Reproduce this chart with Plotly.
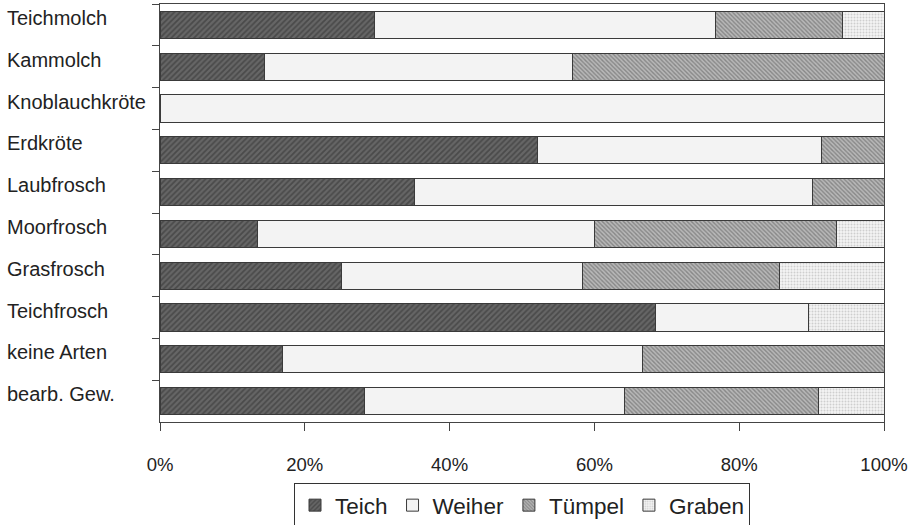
import plotly.graph_objects as go

# Gewässertypen je Art (Anteile in %)
arten = ["Teichmolch", "Kammolch", "Knoblauchkröte", "Erdkröte", "Laubfrosch",
         "Moorfrosch", "Grasfrosch", "Teichfrosch", "keine Arten", "bearb. Gew."]
teich  = [29.6, 14.4, 0.0, 52.2, 35.1, 13.4, 25.1, 68.4, 16.9, 28.3]
weiher = [47.1, 42.6, 100.0, 39.1, 55.0, 46.6, 33.2, 21.2, 49.8, 35.8]
tuempel = [17.5, 43.0, 0.0, 8.7, 9.9, 33.5, 27.3, 0.0, 33.3, 26.9]
graben = [5.8, 0.0, 0.0, 0.0, 0.0, 6.5, 14.4, 10.4, 0.0, 9.0]
x_ticks = [0, 20, 40, 60, 80, 100]
x_ticktext = [f"{v}%" for v in x_ticks]

FONT = "Liberation Sans, Arial, sans-serif"
TXT = "#222222"
EDGE = "#3a3a3a"

series = [
    ("Teich", teich, dict(shape="/", bgcolor="#666666", fgcolor="#2e2e2e", size=4, solidity=0.45)),
    ("Weiher", weiher, dict(shape="", bgcolor="#f3f3f3", fgcolor="#f3f3f3")),
    ("Tümpel", tuempel, dict(shape="\\", bgcolor="#b8b8b8", fgcolor="#555555", size=3, solidity=0.45)),
    ("Graben", graben, dict(shape=".", bgcolor="#f4f4f4", fgcolor="#a8a8a8", size=3, solidity=0.35)),
]

fig = go.Figure()
for name, vals, pat in series:
    fig.add_trace(go.Bar(
        name=name, y=arten, x=vals, orientation="h",
        marker=dict(color=pat["bgcolor"], pattern=pat,
                    line=dict(color=EDGE, width=1)),
        hoverinfo="x+y+name",
    ))

# Artnamen linksbündig am Rand
for a in arten:
    fig.add_annotation(x=-0.214, xref="paper", y=a, yref="y", text=a,
                       xanchor="left", yanchor="middle", showarrow=False,
                       yshift=7, font=dict(family=FONT, size=20, color=TXT))

fig.update_layout(
    barmode="stack", bargap=0.35,
    width=910, height=525,
    margin=dict(l=160, r=26, t=4, b=103, autoexpand=False),
    paper_bgcolor="white", plot_bgcolor="white",
    font=dict(family=FONT, color=TXT),
    showlegend=True,
    legend=dict(orientation="h", x=0.5, xanchor="center", y=-0.146, yanchor="top",
                font=dict(family=FONT, size=22.5, color=TXT),
                bordercolor="#333333", borderwidth=1, bgcolor="white",
                itemwidth=30, traceorder="normal"),
)
fig.update_xaxes(
    range=[0, 100], tickvals=x_ticks, ticktext=x_ticktext,
    showgrid=False, zeroline=False,
    showline=True, linecolor="#444444", linewidth=1, mirror=True,
    ticks="outside", ticklen=8, tickcolor="#444444",
    ticklabelstandoff=18,
    tickfont=dict(family=FONT, size=18.5, color=TXT),
)
fig.update_yaxes(
    autorange="reversed", showticklabels=False,
    showgrid=False, zeroline=False,
    showline=True, linecolor="#444444", linewidth=1, mirror=True,
    ticks="outside", ticklen=7, tickcolor="#444444", tickson="boundaries",
)

fig.write_html("out.html")
